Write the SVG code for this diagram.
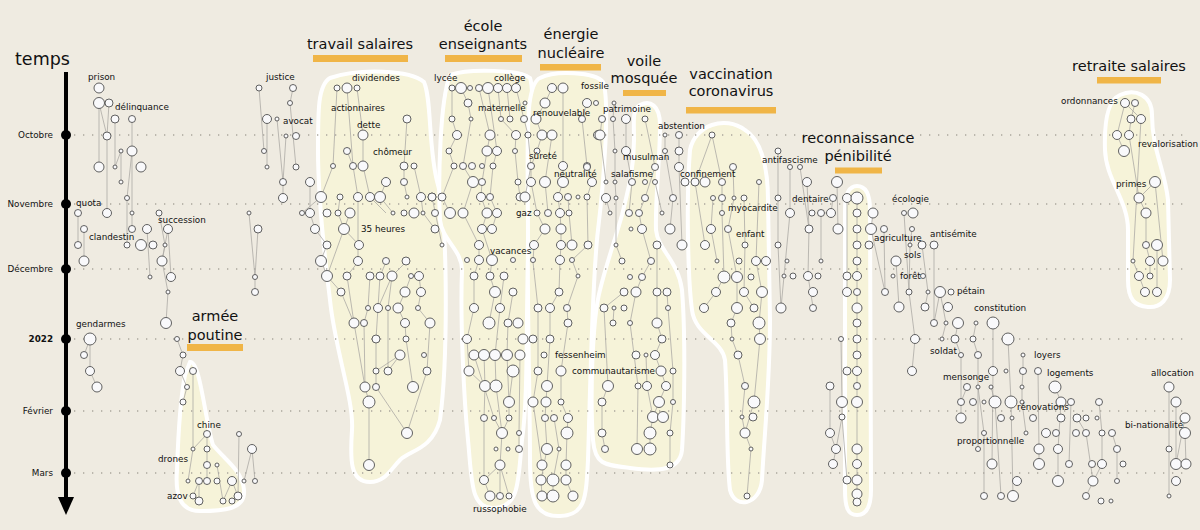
<svg xmlns="http://www.w3.org/2000/svg" width="1200" height="530" viewBox="0 0 1200 530">
<style>
.bg{fill:#efebe1}
.hl{fill:#f6f3d9;stroke:#fff;stroke-width:4}
.bar{fill:#f0b547}
.dl{stroke:#aaa69c;stroke-width:1.3;stroke-dasharray:1.3 7.7;fill:none}
.ln polyline{fill:none;stroke:#acaaa5;stroke-width:0.8}
circle{fill:#f9f9fb;stroke:#4f4f4f;stroke-width:0.9}
text{font-family:"DejaVu Sans","Liberation Sans",sans-serif;fill:#111}
.s{font-size:8.8px}
.t{font-size:14.5px;text-anchor:middle}
.m{font-size:8.8px;text-anchor:end}
</style>
<rect class="bg" x="0" y="0" width="1200" height="530"/>

<g id="highlights">
<path class="hl" d="M190,362 C200,360 205,420 213,445 C225,460 242,470 244,490 C246,510 222,511 200,511 C180,511 175,495 177,470 C178,440 180,400 185,375 Z"/>
<path class="hl" d="M330,78 C360,68 410,70 424,82 C432,100 428,150 438,185 C448,220 448,360 440,420 C432,450 410,450 400,460 C390,470 385,482 370,482 C350,482 350,460 352,430 C354,400 335,350 330,300 C325,260 318,200 318,150 C318,110 318,85 330,78 Z"/>
<path class="hl" d="M450,75 C470,68 520,70 530,78 C536,95 530,200 528,260 C526,330 528,400 522,440 C518,480 520,506 495,508 C470,510 472,480 468,440 C464,400 460,320 462,270 C462,250 442,240 440,220 C438,180 440,100 450,75 Z"/>
<path class="hl" d="M540,78 C555,70 595,72 603,82 C610,100 604,180 598,230 C592,280 590,400 588,460 C586,500 585,515 560,516 C535,517 530,500 530,460 C530,400 527,300 528,240 C528,180 526,120 530,100 C532,88 535,80 540,78 Z"/>
<path class="hl" d="M640,105 C650,100 660,105 660,125 C660,160 655,200 656,230 C658,250 678,260 682,290 C686,340 684,420 682,450 C680,470 660,472 630,468 C605,465 595,465 593,440 C590,400 592,320 600,290 C606,265 615,240 622,215 C628,190 634,170 634,140 C634,120 632,110 640,105 Z"/>
<path class="hl" d="M690,150 C695,125 725,115 745,130 C762,140 768,170 768,200 L770,320 C770,380 764,440 762,480 C760,505 735,510 730,490 C726,460 728,400 725,360 C722,340 695,335 692,310 C688,280 686,200 690,150 Z"/>
<path class="hl" d="M857,186 C866,186 870,195 870,210 L871,490 C871,508 866,515 857,515 C848,515 845,508 845,490 L845,210 C845,195 848,186 857,186 Z"/>
<path class="hl" d="M1120,95 C1135,88 1152,95 1152,115 C1152,150 1165,170 1168,200 L1170,280 C1170,300 1160,308 1148,307 C1135,306 1128,300 1128,280 L1128,230 C1128,200 1106,180 1105,150 C1104,120 1108,100 1120,95 Z"/>
</g>

<g id="months">
<line class="dl" x1="74" y1="135" x2="1185" y2="135"/>
<line class="dl" x1="74" y1="204" x2="1185" y2="204"/>
<line class="dl" x1="74" y1="269" x2="1185" y2="269"/>
<line class="dl" x1="74" y1="339" x2="1185" y2="339"/>
<line class="dl" x1="74" y1="411" x2="1185" y2="411"/>
<line class="dl" x1="74" y1="473" x2="1185" y2="473"/>
</g>

<g id="timeline">
<text x="15" y="65" style="font-size:17.5px">temps</text>
<line x1="66" y1="72" x2="66" y2="500" stroke="#000" stroke-width="4"/>
<polygon points="58,497 74,497 66,515" fill="#000"/>
<circle cx="66" cy="135" r="5" style="fill:#000;stroke:none"/>
<circle cx="66" cy="204" r="5" style="fill:#000;stroke:none"/>
<circle cx="66" cy="269" r="5" style="fill:#000;stroke:none"/>
<circle cx="66" cy="339" r="5" style="fill:#000;stroke:none"/>
<circle cx="66" cy="411" r="5" style="fill:#000;stroke:none"/>
<circle cx="66" cy="473" r="5" style="fill:#000;stroke:none"/>
<text class="m" x="53" y="138">Octobre</text>
<text class="m" x="53" y="207">Novembre</text>
<text class="m" x="53" y="272">Décembre</text>
<text class="m" x="53" y="342" font-weight="bold">2022</text>
<text class="m" x="53" y="414">Février</text>
<text class="m" x="53" y="476">Mars</text>
</g>

<g id="connectors" class="ln">
<polyline points="99,103 99,167"/>
<polyline points="99,103 107,136 107,213"/>
<polyline points="109,103 107,136"/>
<polyline points="115,119 115,167 121,151 121,182"/>
<polyline points="132,119 132,151 127,198 127,245"/>
<polyline points="132,151 132,213 132,229"/>
<polyline points="78,213 78,245"/>
<polyline points="84,229 84,261"/>
<polyline points="159,213 165,245 162,261 168,292 166,323"/>
<polyline points="168,229 162,261"/>
<polyline points="147,229 150,277"/>
<polyline points="168,229 171,277"/>
<polyline points="259,88 264,151"/>
<polyline points="267,119 267,167"/>
<polyline points="293,88 290,103 296,167"/>
<polyline points="277,119 283,182 283,198"/>
<polyline points="286,136 283,182"/>
<polyline points="249,213 255,277 255,292"/>
<polyline points="258,229 255,277"/>
<polyline points="90,339 90,371 97,387"/>
<polyline points="90,339 84,355"/>
<polyline points="177,339 183,355 180,371 187,387 183,402"/>
<polyline points="193,371 193,449 188,481"/>
<polyline points="207,434 193,449"/>
<polyline points="207,434 207,449 207,465 207,481"/>
<polyline points="217,465 223,501"/>
<polyline points="239,434 238,496"/>
<polyline points="252,449 244,481"/>
<polyline points="252,449 255,481"/>
<polyline points="199,481 193,496"/>
<polyline points="199,481 199,501"/>
<polyline points="232,481 223,501"/>
<polyline points="232,481 238,496"/>
<polyline points="337,88 333,166 321,197"/>
<polyline points="347,88 353,166 358,197 358,245 358,262"/>
<polyline points="357,88 363,135 363,166 370,197 386,213"/>
<polyline points="347,151 353,166"/>
<polyline points="407,119 404,166 404,182 407,197"/>
<polyline points="414,166 421,197 423,213 435,229"/>
<polyline points="310,182 310,213 315,229 327,245 321,260"/>
<polyline points="321,197 302,213"/>
<polyline points="340,197 338,213 344,229 359,245"/>
<polyline points="380,197 393,213"/>
<polyline points="386,182 380,197"/>
<polyline points="350,213 344,229 327,276"/>
<polyline points="432,197 442,245"/>
<polyline points="442,197 450,213"/>
<polyline points="321,260 327,276 341,292 354,323 365,387 369,402 369,465"/>
<polyline points="358,262 347,276 354,323"/>
<polyline points="370,276 368,308 364,323 365,387"/>
<polyline points="386,262 380,276 376,339 376,371 376,387 407,433"/>
<polyline points="406,262 392,276 388,308 388,371 400,355"/>
<polyline points="411,276 405,292 398,308 405,323 406,339 413,387"/>
<polyline points="419,276 421,292 418,308 430,323 427,371 407,433"/>
<polyline points="392,276 378,308"/>
<polyline points="400,355 376,371"/>
<polyline points="452,88 452,119 457,135 449,151 454,166 442,197"/>
<polyline points="461,88 468,103 471,119 463,166 473,182 463,213 479,245 479,260 474,276 474,308 467,339 469,371 485,386"/>
<polyline points="479,88 490,135 487,151 482,182 481,197 487,213 482,229 492,260 490,276 495,292 489,323"/>
<polyline points="488,88 497,151 493,166 490,197 497,213 492,229"/>
<polyline points="498,88 501,119 516,135 515,151 518,182 520,197"/>
<polyline points="507,88 510,119"/>
<polyline points="516,88 524,119 528,135 531,166 525,197"/>
<polyline points="484,355 485,386 484,418 484,480 490,496"/>
<polyline points="495,355 496,386 502,433 500,465 500,496"/>
<polyline points="474,355 494,418 502,433"/>
<polyline points="507,355 509,402 509,418 502,433"/>
<polyline points="513,371 509,402"/>
<polyline points="520,355 519,433 519,449"/>
<polyline points="513,292 508,323 507,355"/>
<polyline points="504,276 500,308 495,355"/>
<polyline points="500,465 484,480"/>
<polyline points="500,465 509,496"/>
<polyline points="552,88 545,103 536,119 542,135 537,151 531,166 531,182 537,213 545,229 534,245 533,262 538,308 538,371 533,402 542,465"/>
<polyline points="563,88 563,166 563,182 558,197 560,213 561,229 561,245 560,260 559,292 550,308 550,339 547,386 546,402 545,418 547,449 541,480 542,496"/>
<polyline points="587,103 582,119 587,166 592,182 587,197 588,245 572,260 578,276 567,308 568,323 561,371 561,402 568,418 567,433 566,465 566,480 573,496"/>
<polyline points="552,135 545,182 548,213"/>
<polyline points="568,197 569,213 572,245"/>
<polyline points="554,418 559,449 553,480 553,496"/>
<polyline points="614,103 613,119 615,151 615,182 616,198 616,245 622,261"/>
<polyline points="602,119 600,135 606,182"/>
<polyline points="626,119 626,151 632,182 629,213"/>
<polyline points="645,119 655,167 645,198 639,213 642,229 651,261 642,277 636,292"/>
<polyline points="655,182 662,213"/>
<polyline points="606,198 610,213"/>
<polyline points="657,245 657,292 657,323 662,339 655,355 661,371 666,386 659,402 653,417 650,433 650,449"/>
<polyline points="624,292 604,308 608,386 602,402 602,433 605,449"/>
<polyline points="636,292 630,323 638,386 637,449"/>
<polyline points="667,292 668,308 673,371 673,402 670,433 670,465"/>
<polyline points="613,323 614,308"/>
<polyline points="646,355 647,386 653,417"/>
<polyline points="665,135 665,151 673,198 670,229"/>
<polyline points="679,135 679,151 679,167 682,245"/>
<polyline points="712,135 695,182 705,245"/>
<polyline points="712,135 722,182 722,198 722,213 724,277 716,292 704,308"/>
<polyline points="733,167 734,198 728,229 737,277 737,308 731,323 732,339 738,355 745,386 742,417 745,433 751,449 747,496"/>
<polyline points="759,182 756,261 762,292 759,323 760,339 754,402 745,433"/>
<polyline points="744,198 745,245 744,292 754,308"/>
<polyline points="713,198 711,229 717,261"/>
<polyline points="778,151 778,198 778,245 781,308"/>
<polyline points="790,167 790,213 784,276 781,308"/>
<polyline points="800,167 809,229 808,276 813,307"/>
<polyline points="807,182 809,229"/>
<polyline points="837,182 838,229"/>
<polyline points="833,198 831,213 821,213"/>
<polyline points="821,213 821,261"/>
<polyline points="847,198 847,276 847,292"/>
<polyline points="857,198 857,502"/>
<polyline points="841,339 842,402 842,417 836,449 833,464"/>
<polyline points="830,386 830,433 836,449"/>
<polyline points="842,417 847,480"/>
<polyline points="873,213 871,229 885,292"/>
<polyline points="884,229 885,292"/>
<polyline points="904,213 909,292 915,339"/>
<polyline points="912,229 910,245 909,292"/>
<polyline points="922,245 928,292 925,307"/>
<polyline points="934,245 934,323"/>
<polyline points="896,261 899,307"/>
<polyline points="940,292 934,323"/>
<polyline points="940,292 946,323 942,339"/>
<polyline points="958,323 955,339 961,355 961,402 961,418"/>
<polyline points="976,323 973,339 978,355 978,449"/>
<polyline points="993,323 993,371 992,464"/>
<polyline points="1008,339 1011,402 1013,496"/>
<polyline points="915,339 912,371"/>
<polyline points="1023,355 1023,371 1022,387 1022,402 1026,433"/>
<polyline points="1038,371 1039,449 1039,464"/>
<polyline points="1055,387 1061,402 1058,449 1058,481"/>
<polyline points="1071,402 1069,464"/>
<polyline points="1099,402 1102,433 1102,464 1086,496"/>
<polyline points="1077,418 1086,433 1093,481"/>
<polyline points="1112,433 1117,449 1117,481"/>
<polyline points="1169,387 1169,449 1169,496"/>
<polyline points="1176,402 1176,464"/>
<polyline points="1185,418 1176,464"/>
<polyline points="1185,433 1186,464"/>
<polyline points="967,387 961,402"/>
<polyline points="978,387 984,433 984,496"/>
<polyline points="991,387 995,402 1001,496"/>
<polyline points="1125,103 1117,135 1124,151"/>
<polyline points="1125,103 1141,119"/>
<polyline points="1135,103 1131,119 1129,135"/>
<polyline points="1129,135 1139,198 1146,213 1146,245 1150,261 1150,276"/>
<polyline points="1155,182 1139,198"/>
<polyline points="1155,182 1163,261"/>
<polyline points="1141,119 1133,261 1139,276 1145,292"/>
<polyline points="1157,245 1157,292"/>
</g>

<g id="node-gauche">
<circle cx="99" cy="88" r="5"/><circle cx="99" cy="103" r="5.5"/><circle cx="109" cy="103" r="4"/><circle cx="115" cy="119" r="4"/><circle cx="132" cy="119" r="3.5"/><circle cx="107" cy="136" r="4"/><circle cx="121" cy="151" r="2"/><circle cx="132" cy="151" r="5"/><circle cx="99" cy="167" r="5"/><circle cx="115" cy="167" r="2"/><circle cx="141" cy="167" r="5"/><circle cx="121" cy="182" r="2"/><circle cx="127" cy="198" r="2.5"/><circle cx="78" cy="213" r="3.5"/><circle cx="107" cy="213" r="4.5"/><circle cx="132" cy="213" r="2"/><circle cx="159" cy="213" r="3"/><circle cx="84" cy="229" r="3.5"/><circle cx="132" cy="229" r="3.5"/><circle cx="147" cy="229" r="4.5"/><circle cx="168" cy="229" r="4.5"/><circle cx="78" cy="245" r="3.5"/><circle cx="127" cy="245" r="3"/><circle cx="141" cy="245" r="5.5"/><circle cx="153" cy="245" r="4"/><circle cx="165" cy="245" r="2"/><circle cx="84" cy="261" r="5"/><circle cx="162" cy="261" r="5"/><circle cx="150" cy="277" r="2"/><circle cx="171" cy="277" r="4.5"/><circle cx="168" cy="292" r="2"/><circle cx="166" cy="323" r="5.5"/><circle cx="90" cy="339" r="6"/><circle cx="84" cy="355" r="3.5"/><circle cx="90" cy="371" r="4.5"/><circle cx="97" cy="387" r="5"/>
<text class="s" x="88" y="80">prison</text>
<text class="s" x="115" y="110">délinquance</text>
<text class="s" x="76" y="206">quota</text>
<text class="s" x="158" y="223">succession</text>
<text class="s" x="89" y="240">clandestin</text>
<text class="s" x="76" y="327">gendarmes</text>
</g>

<g id="node-justice">
<circle cx="259" cy="88" r="3"/><circle cx="293" cy="88" r="3.5"/><circle cx="290" cy="103" r="2.5"/><circle cx="267" cy="119" r="4.5"/><circle cx="277" cy="119" r="2"/><circle cx="286" cy="136" r="2"/><circle cx="296" cy="136" r="3.5"/><circle cx="264" cy="151" r="2.5"/><circle cx="267" cy="167" r="2"/><circle cx="296" cy="167" r="3"/><circle cx="283" cy="182" r="3.5"/><circle cx="283" cy="198" r="4.5"/><circle cx="249" cy="213" r="2"/><circle cx="258" cy="229" r="4"/><circle cx="255" cy="277" r="2.5"/><circle cx="255" cy="292" r="3.5"/>
<text class="s" x="266" y="80">justice</text>
<text class="s" x="283" y="124">avocat</text>
</g>

<g id="node-armee">
<circle cx="177" cy="339" r="2.5"/><circle cx="183" cy="355" r="3"/><circle cx="180" cy="371" r="4.5"/><circle cx="193" cy="371" r="3.5"/><circle cx="187" cy="387" r="2.5"/><circle cx="183" cy="402" r="3"/><circle cx="207" cy="434" r="3.5"/><circle cx="239" cy="434" r="2.5"/><circle cx="193" cy="449" r="2"/><circle cx="207" cy="449" r="3"/><circle cx="252" cy="449" r="4.5"/><circle cx="207" cy="465" r="3.5"/><circle cx="217" cy="465" r="2"/><circle cx="188" cy="481" r="2"/><circle cx="199" cy="481" r="3.5"/><circle cx="207" cy="481" r="3.5"/><circle cx="217" cy="481" r="3"/><circle cx="232" cy="481" r="4.5"/><circle cx="244" cy="481" r="2"/><circle cx="255" cy="481" r="2.5"/><circle cx="193" cy="496" r="3"/><circle cx="199" cy="501" r="4"/><circle cx="223" cy="501" r="3"/><circle cx="232" cy="501" r="3"/><circle cx="238" cy="496" r="4"/>
<text class="s" x="197" y="428">chine</text>
<text class="s" x="158" y="462">drones</text>
<text class="s" x="167" y="499">azov</text>
</g>

<g id="node-travail">
<circle cx="337" cy="88" r="3"/><circle cx="347" cy="88" r="5"/><circle cx="357" cy="88" r="3"/><circle cx="407" cy="119" r="4"/><circle cx="363" cy="135" r="5"/><circle cx="347" cy="151" r="3.5"/><circle cx="333" cy="166" r="2.5"/><circle cx="353" cy="166" r="3.5"/><circle cx="363" cy="166" r="5"/><circle cx="404" cy="166" r="4"/><circle cx="414" cy="166" r="3"/><circle cx="310" cy="182" r="4.5"/><circle cx="386" cy="182" r="4.5"/><circle cx="404" cy="182" r="3.5"/><circle cx="321" cy="197" r="5.5"/><circle cx="340" cy="197" r="3"/><circle cx="358" cy="197" r="4.5"/><circle cx="370" cy="197" r="4.5"/><circle cx="380" cy="197" r="5.5"/><circle cx="407" cy="197" r="2"/><circle cx="421" cy="197" r="4.5"/><circle cx="432" cy="197" r="4"/><circle cx="442" cy="197" r="4"/><circle cx="302" cy="213" r="2.5"/><circle cx="310" cy="213" r="4.5"/><circle cx="327" cy="213" r="4"/><circle cx="338" cy="213" r="3"/><circle cx="350" cy="213" r="5"/><circle cx="393" cy="213" r="2"/><circle cx="404" cy="213" r="3"/><circle cx="414" cy="213" r="5"/><circle cx="423" cy="213" r="2"/><circle cx="434" cy="213" r="2"/><circle cx="450" cy="213" r="5.5"/><circle cx="315" cy="229" r="4.5"/><circle cx="344" cy="229" r="5.5"/><circle cx="435" cy="229" r="4"/><circle cx="327" cy="245" r="4"/><circle cx="359" cy="245" r="4.5"/><circle cx="442" cy="245" r="2"/><circle cx="321" cy="261" r="5.5"/><circle cx="358" cy="261" r="4.5"/><circle cx="386" cy="261" r="3.5"/><circle cx="406" cy="261" r="4"/>
<circle cx="327" cy="276" r="5.5"/><circle cx="347" cy="276" r="4"/><circle cx="370" cy="276" r="4"/><circle cx="380" cy="276" r="4"/><circle cx="392" cy="276" r="5"/><circle cx="411" cy="276" r="2.5"/><circle cx="419" cy="276" r="4.5"/><circle cx="341" cy="292" r="4"/><circle cx="405" cy="292" r="5"/><circle cx="421" cy="292" r="4.5"/><circle cx="368" cy="308" r="2.5"/><circle cx="378" cy="308" r="4.5"/><circle cx="388" cy="308" r="2.5"/><circle cx="398" cy="308" r="5"/><circle cx="418" cy="308" r="2.5"/><circle cx="354" cy="323" r="5"/><circle cx="364" cy="323" r="3.5"/><circle cx="405" cy="323" r="4.5"/><circle cx="430" cy="323" r="5"/><circle cx="376" cy="339" r="4"/><circle cx="406" cy="339" r="3"/><circle cx="400" cy="355" r="5"/><circle cx="424" cy="355" r="2.5"/><circle cx="376" cy="371" r="3"/><circle cx="388" cy="371" r="4"/><circle cx="427" cy="371" r="4"/><circle cx="365" cy="387" r="5"/><circle cx="376" cy="387" r="3.5"/><circle cx="413" cy="387" r="5.5"/><circle cx="369" cy="402" r="6"/><circle cx="407" cy="433" r="5.5"/><circle cx="369" cy="465" r="5.5"/>
<text class="s" x="352" y="81">dividendes</text>
<text class="s" x="331" y="111">actionnaires</text>
<text class="s" x="357" y="128">dette</text>
<text class="s" x="373" y="155">chômeur</text>
<text class="s" x="361" y="232">35 heures</text>
</g>

<g id="node-ecole">
<circle cx="452" cy="88" r="3"/><circle cx="461" cy="88" r="5.5"/><circle cx="470" cy="88" r="2.5"/><circle cx="479" cy="88" r="3.5"/><circle cx="488" cy="88" r="5.5"/><circle cx="498" cy="88" r="4.5"/><circle cx="507" cy="88" r="4.5"/><circle cx="516" cy="88" r="4.5"/><circle cx="468" cy="103" r="4"/><circle cx="525" cy="103" r="2"/><circle cx="452" cy="119" r="3"/><circle cx="471" cy="119" r="2"/><circle cx="501" cy="119" r="2.5"/><circle cx="510" cy="119" r="3"/><circle cx="524" cy="119" r="3.5"/><circle cx="457" cy="135" r="4.5"/><circle cx="490" cy="135" r="5"/><circle cx="516" cy="135" r="4.5"/><circle cx="528" cy="135" r="3"/><circle cx="449" cy="151" r="3"/><circle cx="487" cy="151" r="5"/><circle cx="497" cy="151" r="4.5"/><circle cx="515" cy="151" r="2.5"/><circle cx="454" cy="166" r="3"/><circle cx="463" cy="166" r="3.5"/><circle cx="472" cy="166" r="3.5"/><circle cx="482" cy="166" r="2.5"/><circle cx="493" cy="166" r="3"/><circle cx="473" cy="182" r="5.5"/><circle cx="482" cy="182" r="3.5"/><circle cx="518" cy="182" r="3"/><circle cx="432" cy="197" r="4"/><circle cx="481" cy="197" r="4.5"/><circle cx="490" cy="197" r="3.5"/><circle cx="520" cy="197" r="4"/><circle cx="435" cy="213" r="3.5"/><circle cx="463" cy="213" r="5"/><circle cx="487" cy="213" r="5"/><circle cx="497" cy="213" r="4.5"/><circle cx="482" cy="229" r="4.5"/><circle cx="492" cy="229" r="4.5"/><circle cx="479" cy="245" r="4.5"/><circle cx="467" cy="260" r="2.5"/><circle cx="479" cy="260" r="4.5"/><circle cx="492" cy="260" r="5.5"/><circle cx="513" cy="260" r="2.5"/>
<circle cx="474" cy="276" r="4"/><circle cx="490" cy="276" r="4"/><circle cx="504" cy="276" r="4"/><circle cx="495" cy="292" r="5.5"/><circle cx="513" cy="292" r="4"/><circle cx="474" cy="308" r="4.5"/><circle cx="500" cy="308" r="4.5"/><circle cx="489" cy="323" r="6"/><circle cx="508" cy="323" r="4"/><circle cx="518" cy="323" r="5"/><circle cx="467" cy="339" r="4.5"/><circle cx="523" cy="339" r="5"/><circle cx="474" cy="355" r="5"/><circle cx="484" cy="355" r="5.5"/><circle cx="495" cy="355" r="5.5"/><circle cx="507" cy="355" r="5.5"/><circle cx="520" cy="355" r="5"/><circle cx="469" cy="371" r="5"/><circle cx="513" cy="371" r="6"/><circle cx="485" cy="386" r="5.5"/><circle cx="496" cy="386" r="6"/><circle cx="509" cy="402" r="5.5"/><circle cx="484" cy="418" r="3.5"/><circle cx="494" cy="418" r="2.5"/><circle cx="509" cy="418" r="3"/><circle cx="502" cy="433" r="5.5"/><circle cx="519" cy="433" r="2.5"/><circle cx="496" cy="449" r="2"/><circle cx="508" cy="449" r="2"/><circle cx="519" cy="449" r="3.5"/><circle cx="500" cy="465" r="5"/><circle cx="484" cy="480" r="4.5"/><circle cx="490" cy="496" r="5"/><circle cx="500" cy="496" r="3.5"/><circle cx="509" cy="496" r="3"/>
<text class="s" x="434" y="81">lycée</text>
<text class="s" x="494" y="81">collège</text>
<text class="s" x="478" y="111">maternelle</text>
<text class="s" x="490" y="254">vacances</text>
<text class="s" x="473" y="512">russophobie</text>
</g>

<g id="node-energie">
<circle cx="552" cy="88" r="4.5"/><circle cx="563" cy="88" r="5"/><circle cx="545" cy="103" r="5"/><circle cx="587" cy="103" r="4.5"/><circle cx="596" cy="103" r="2.5"/><circle cx="536" cy="119" r="5"/><circle cx="582" cy="119" r="3.5"/><circle cx="542" cy="135" r="5"/><circle cx="552" cy="135" r="5"/><circle cx="598" cy="135" r="4.5"/><circle cx="537" cy="151" r="3"/><circle cx="531" cy="166" r="3.5"/><circle cx="563" cy="166" r="4.5"/><circle cx="587" cy="166" r="3.5"/><circle cx="531" cy="182" r="4.5"/><circle cx="545" cy="182" r="5.5"/><circle cx="563" cy="182" r="5.5"/><circle cx="592" cy="182" r="4.5"/><circle cx="525" cy="197" r="5"/><circle cx="558" cy="197" r="4.5"/><circle cx="568" cy="197" r="3.5"/><circle cx="578" cy="197" r="2"/><circle cx="587" cy="197" r="3"/><circle cx="537" cy="213" r="3"/><circle cx="548" cy="213" r="3.5"/><circle cx="560" cy="213" r="4.5"/><circle cx="569" cy="213" r="3"/><circle cx="545" cy="229" r="5"/><circle cx="561" cy="229" r="5"/><circle cx="534" cy="245" r="4.5"/><circle cx="561" cy="245" r="4.5"/><circle cx="572" cy="245" r="5"/><circle cx="588" cy="245" r="4"/><circle cx="533" cy="260" r="2.5"/><circle cx="560" cy="260" r="4.5"/><circle cx="572" cy="260" r="2.5"/>
<circle cx="578" cy="276" r="2"/><circle cx="559" cy="292" r="4"/><circle cx="538" cy="308" r="4"/><circle cx="550" cy="308" r="4.5"/><circle cx="567" cy="308" r="3.5"/><circle cx="568" cy="323" r="4"/><circle cx="533" cy="339" r="4"/><circle cx="550" cy="339" r="4"/><circle cx="544" cy="355" r="3"/><circle cx="538" cy="371" r="4"/><circle cx="561" cy="371" r="5"/><circle cx="547" cy="386" r="5.5"/><circle cx="533" cy="402" r="5"/><circle cx="546" cy="402" r="5"/><circle cx="561" cy="402" r="3"/><circle cx="545" cy="418" r="3.5"/><circle cx="554" cy="418" r="3.5"/><circle cx="568" cy="418" r="4.5"/><circle cx="567" cy="433" r="6"/><circle cx="547" cy="449" r="5.5"/><circle cx="559" cy="449" r="2"/><circle cx="542" cy="465" r="5"/><circle cx="566" cy="465" r="5"/><circle cx="541" cy="480" r="5"/><circle cx="553" cy="480" r="6"/><circle cx="566" cy="480" r="5"/><circle cx="542" cy="496" r="5"/><circle cx="553" cy="496" r="6"/><circle cx="573" cy="496" r="5"/>
<text class="s" x="581" y="89">fossile</text>
<text class="s" x="533" y="116">renouvelable</text>
<text class="s" x="529" y="159">sûreté</text>
<text class="s" x="554" y="177">neutralité</text>
<text class="s" x="516" y="216">gaz</text>
<text class="s" x="555" y="358">fessenheim</text>
<text class="s" x="572" y="374">communautarisme</text>
</g>

<g id="node-voile">
<circle cx="614" cy="103" r="2"/><circle cx="602" cy="119" r="3.5"/><circle cx="613" cy="119" r="2.5"/><circle cx="626" cy="119" r="4.5"/><circle cx="645" cy="119" r="3"/><circle cx="600" cy="135" r="5"/><circle cx="615" cy="151" r="2"/><circle cx="626" cy="151" r="4.5"/><circle cx="587" cy="167" r="3.5"/><circle cx="655" cy="167" r="3.5"/><circle cx="606" cy="182" r="2"/><circle cx="615" cy="182" r="2"/><circle cx="632" cy="182" r="3.5"/><circle cx="645" cy="182" r="2.5"/><circle cx="655" cy="182" r="2.5"/><circle cx="606" cy="198" r="4.5"/><circle cx="616" cy="198" r="2"/><circle cx="645" cy="198" r="3.5"/><circle cx="610" cy="213" r="2"/><circle cx="629" cy="213" r="3.5"/><circle cx="639" cy="213" r="3.5"/><circle cx="662" cy="213" r="2"/><circle cx="631" cy="229" r="2"/><circle cx="642" cy="229" r="4.5"/><circle cx="616" cy="245" r="2"/><circle cx="657" cy="245" r="4"/><circle cx="622" cy="261" r="3"/><circle cx="651" cy="261" r="3.5"/><circle cx="630" cy="277" r="2.5"/><circle cx="642" cy="277" r="3.5"/>
<circle cx="624" cy="292" r="4"/><circle cx="636" cy="292" r="5"/><circle cx="657" cy="292" r="4"/><circle cx="667" cy="292" r="4"/><circle cx="604" cy="308" r="4"/><circle cx="614" cy="308" r="2"/><circle cx="624" cy="308" r="3"/><circle cx="668" cy="308" r="2.5"/><circle cx="613" cy="323" r="3"/><circle cx="630" cy="323" r="2.5"/><circle cx="657" cy="323" r="5"/><circle cx="662" cy="339" r="4"/><circle cx="636" cy="355" r="4"/><circle cx="646" cy="355" r="2"/><circle cx="655" cy="355" r="4.5"/><circle cx="661" cy="371" r="5"/><circle cx="673" cy="371" r="3"/><circle cx="608" cy="386" r="5.5"/><circle cx="638" cy="386" r="3"/><circle cx="647" cy="386" r="4.5"/><circle cx="666" cy="386" r="4.5"/><circle cx="602" cy="402" r="4"/><circle cx="659" cy="402" r="5.5"/><circle cx="673" cy="402" r="2.5"/><circle cx="653" cy="417" r="5.5"/><circle cx="663" cy="417" r="5.5"/><circle cx="602" cy="433" r="4"/><circle cx="650" cy="433" r="6"/><circle cx="670" cy="433" r="3"/><circle cx="605" cy="449" r="3.5"/><circle cx="637" cy="449" r="5.5"/><circle cx="650" cy="449" r="6"/><circle cx="670" cy="465" r="3"/>
<text class="s" x="603" y="112">patrimoine</text>
<text class="s" x="623" y="160">musulman</text>
<text class="s" x="611" y="177">salafisme</text>
</g>

<g id="node-vaccination">
<circle cx="665" cy="135" r="2"/><circle cx="679" cy="135" r="3.5"/><circle cx="712" cy="135" r="3"/><circle cx="665" cy="151" r="2.5"/><circle cx="679" cy="151" r="4"/><circle cx="679" cy="167" r="4.5"/><circle cx="733" cy="167" r="3.5"/><circle cx="685" cy="182" r="4"/><circle cx="695" cy="182" r="4"/><circle cx="705" cy="182" r="5"/><circle cx="722" cy="182" r="3.5"/><circle cx="759" cy="182" r="2.5"/><circle cx="673" cy="198" r="3.5"/><circle cx="713" cy="198" r="2.5"/><circle cx="722" cy="198" r="3.5"/><circle cx="734" cy="198" r="2"/><circle cx="744" cy="198" r="3"/><circle cx="722" cy="213" r="2.5"/><circle cx="670" cy="229" r="5"/><circle cx="711" cy="229" r="4.5"/><circle cx="728" cy="229" r="3.5"/><circle cx="682" cy="245" r="5"/><circle cx="705" cy="245" r="4.5"/><circle cx="745" cy="245" r="3"/><circle cx="717" cy="261" r="2"/><circle cx="739" cy="261" r="3"/><circle cx="756" cy="261" r="4.5"/><circle cx="766" cy="261" r="4.5"/><circle cx="724" cy="277" r="6"/><circle cx="737" cy="277" r="5.5"/><circle cx="751" cy="277" r="3"/>
<circle cx="716" cy="292" r="4.5"/><circle cx="744" cy="292" r="4.5"/><circle cx="762" cy="292" r="5.5"/><circle cx="704" cy="308" r="4.5"/><circle cx="737" cy="308" r="5.5"/><circle cx="754" cy="308" r="4"/><circle cx="731" cy="323" r="4"/><circle cx="759" cy="323" r="6"/><circle cx="732" cy="339" r="2"/><circle cx="760" cy="339" r="5.5"/><circle cx="738" cy="355" r="4"/><circle cx="745" cy="386" r="3.5"/><circle cx="754" cy="402" r="6"/><circle cx="742" cy="417" r="2"/><circle cx="753" cy="417" r="4"/><circle cx="745" cy="433" r="5"/><circle cx="751" cy="449" r="2"/><circle cx="747" cy="496" r="3"/>
<text class="s" x="658" y="129">abstention</text>
<text class="s" x="680" y="177">confinement</text>
<text class="s" x="728" y="211">myocardite</text>
<text class="s" x="736" y="237">enfant</text>
</g>

<g id="node-dentaire">
<circle cx="778" cy="151" r="3"/><circle cx="790" cy="167" r="2.5"/><circle cx="800" cy="167" r="2.5"/><circle cx="807" cy="182" r="4.5"/><circle cx="837" cy="182" r="5.5"/><circle cx="778" cy="198" r="3"/><circle cx="833" cy="198" r="3.5"/><circle cx="847" cy="198" r="4.5"/><circle cx="790" cy="213" r="4.5"/><circle cx="812" cy="213" r="3"/><circle cx="821" cy="213" r="3.5"/><circle cx="831" cy="213" r="4.5"/><circle cx="809" cy="229" r="4"/><circle cx="838" cy="229" r="5"/><circle cx="778" cy="245" r="3"/><circle cx="787" cy="261" r="2"/><circle cx="821" cy="261" r="2"/><circle cx="784" cy="276" r="2"/><circle cx="793" cy="276" r="3"/><circle cx="808" cy="276" r="4.5"/><circle cx="818" cy="276" r="3"/><circle cx="847" cy="276" r="4"/><circle cx="813" cy="292" r="4.5"/><circle cx="847" cy="292" r="4.5"/><circle cx="781" cy="308" r="5"/><circle cx="813" cy="308" r="3.5"/><circle cx="841" cy="339" r="2.5"/><circle cx="847" cy="371" r="4"/><circle cx="830" cy="386" r="4"/><circle cx="842" cy="402" r="5.5"/><circle cx="842" cy="417" r="3"/><circle cx="830" cy="433" r="4.5"/><circle cx="836" cy="449" r="4.5"/><circle cx="833" cy="464" r="4.5"/><circle cx="847" cy="480" r="4"/>
<text class="s" x="762" y="163">antifascisme</text>
<text class="s" x="792" y="202">dentaire</text>
</g>

<g id="node-reconnaissance">
<circle cx="857" cy="198" r="6"/><circle cx="857" cy="213" r="4"/><circle cx="857" cy="229" r="4"/><circle cx="857" cy="245" r="4"/><circle cx="857" cy="261" r="4"/><circle cx="857" cy="276" r="4.5"/><circle cx="857" cy="292" r="3.5"/><circle cx="857" cy="308" r="5"/><circle cx="857" cy="323" r="4"/><circle cx="857" cy="339" r="4"/><circle cx="857" cy="355" r="4"/><circle cx="857" cy="371" r="4.5"/><circle cx="857" cy="386" r="3.5"/><circle cx="857" cy="402" r="5.5"/><circle cx="857" cy="449" r="5"/><circle cx="857" cy="464" r="4.5"/><circle cx="857" cy="480" r="5"/><circle cx="857" cy="494" r="5"/><circle cx="857" cy="502" r="4"/>
</g>

<g id="node-ecologie">
<circle cx="873" cy="213" r="5"/><circle cx="904" cy="213" r="2.5"/><circle cx="913" cy="213" r="5"/><circle cx="871" cy="229" r="5.5"/><circle cx="884" cy="229" r="3.5"/><circle cx="912" cy="229" r="2.5"/><circle cx="869" cy="245" r="4"/><circle cx="910" cy="245" r="2"/><circle cx="922" cy="245" r="4"/><circle cx="934" cy="245" r="4"/><circle cx="896" cy="261" r="5"/><circle cx="893" cy="276" r="2"/><circle cx="923" cy="276" r="2.5"/><circle cx="885" cy="292" r="3.5"/><circle cx="909" cy="292" r="3"/><circle cx="928" cy="292" r="2"/><circle cx="940" cy="292" r="5.5"/><circle cx="951" cy="292" r="3"/><circle cx="899" cy="307" r="5"/><circle cx="925" cy="307" r="4"/><circle cx="948" cy="307" r="4.5"/><circle cx="934" cy="323" r="3.5"/><circle cx="946" cy="323" r="2"/><circle cx="958" cy="323" r="5.5"/><circle cx="976" cy="323" r="2"/><circle cx="993" cy="323" r="6"/><circle cx="915" cy="339" r="4.5"/><circle cx="942" cy="339" r="2"/><circle cx="955" cy="339" r="4"/><circle cx="973" cy="339" r="3"/><circle cx="1008" cy="339" r="6"/><circle cx="961" cy="355" r="2.5"/><circle cx="978" cy="355" r="3.5"/><circle cx="1023" cy="355" r="2"/><circle cx="912" cy="371" r="4.5"/><circle cx="993" cy="371" r="4.5"/><circle cx="1006" cy="371" r="2"/><circle cx="1023" cy="371" r="3.5"/><circle cx="1038" cy="371" r="3.5"/>
<circle cx="967" cy="387" r="3.5"/><circle cx="978" cy="387" r="2"/><circle cx="991" cy="387" r="2"/><circle cx="1022" cy="387" r="2"/><circle cx="1055" cy="387" r="6"/><circle cx="1169" cy="387" r="5"/><circle cx="961" cy="402" r="3.5"/><circle cx="973" cy="402" r="3.5"/><circle cx="984" cy="402" r="2"/><circle cx="995" cy="402" r="6"/><circle cx="1011" cy="402" r="6"/><circle cx="1022" cy="402" r="2"/><circle cx="1061" cy="402" r="5"/><circle cx="1071" cy="402" r="3.5"/><circle cx="1099" cy="402" r="3.5"/><circle cx="1176" cy="402" r="5"/><circle cx="961" cy="418" r="5"/><circle cx="1001" cy="418" r="3.5"/><circle cx="1012" cy="418" r="2"/><circle cx="1033" cy="418" r="3.5"/><circle cx="1061" cy="418" r="4"/><circle cx="1077" cy="418" r="4"/><circle cx="1086" cy="418" r="3"/><circle cx="1097" cy="418" r="2"/><circle cx="1185" cy="418" r="5"/><circle cx="984" cy="433" r="2.5"/><circle cx="1026" cy="433" r="2"/><circle cx="1046" cy="433" r="4.5"/><circle cx="1056" cy="433" r="3.5"/><circle cx="1076" cy="433" r="3.5"/><circle cx="1086" cy="433" r="3.5"/><circle cx="1102" cy="433" r="3"/><circle cx="1112" cy="433" r="3.5"/><circle cx="1185" cy="433" r="5.5"/><circle cx="978" cy="449" r="2.5"/><circle cx="1039" cy="449" r="5"/><circle cx="1058" cy="449" r="4.5"/><circle cx="1117" cy="449" r="3.5"/><circle cx="1169" cy="449" r="3"/><circle cx="992" cy="464" r="5"/><circle cx="1039" cy="464" r="5.5"/><circle cx="1069" cy="464" r="3.5"/><circle cx="1092" cy="464" r="3.5"/><circle cx="1102" cy="464" r="4.5"/><circle cx="1123" cy="464" r="3"/><circle cx="1176" cy="464" r="5.5"/><circle cx="1186" cy="464" r="5"/><circle cx="1017" cy="481" r="4.5"/><circle cx="1058" cy="481" r="5.5"/><circle cx="1093" cy="481" r="5"/><circle cx="1117" cy="481" r="2.5"/><circle cx="1176" cy="481" r="4.5"/><circle cx="984" cy="496" r="3.5"/><circle cx="1001" cy="496" r="3.5"/><circle cx="1013" cy="496" r="5.5"/><circle cx="1086" cy="496" r="3.5"/><circle cx="1101" cy="501" r="3"/><circle cx="1111" cy="501" r="2"/><circle cx="1169" cy="496" r="2"/>
<text class="s" x="892" y="202">écologie</text>
<text class="s" x="874" y="241">agriculture</text>
<text class="s" x="930" y="237">antisémite</text>
<text class="s" x="904" y="258">sols</text>
<text class="s" x="900" y="279">forêt</text>
<text class="s" x="957" y="294">pétain</text>
<text class="s" x="974" y="311">constitution</text>
<text class="s" x="930" y="354">soldat</text>
<text class="s" x="1034" y="358">loyers</text>
<text class="s" x="1047" y="376">logements</text>
<text class="s" x="943" y="380">mensonge</text>
<text class="s" x="1151" y="376">allocation</text>
<text class="s" x="1017" y="410">rénovations</text>
<text class="s" x="1125" y="428">bi-nationalité</text>
<text class="s" x="957" y="444">proportionnelle</text>
</g>

<g id="node-retraite">
<circle cx="1125" cy="103" r="4.5"/><circle cx="1135" cy="103" r="3.5"/><circle cx="1131" cy="119" r="4"/><circle cx="1141" cy="119" r="4.5"/><circle cx="1117" cy="135" r="4.5"/><circle cx="1129" cy="135" r="4.5"/><circle cx="1124" cy="151" r="5.5"/><circle cx="1155" cy="182" r="5.5"/><circle cx="1139" cy="198" r="5"/><circle cx="1146" cy="213" r="5"/><circle cx="1146" cy="245" r="3.5"/><circle cx="1157" cy="245" r="5.5"/><circle cx="1133" cy="261" r="2"/><circle cx="1150" cy="261" r="4.5"/><circle cx="1163" cy="261" r="5"/><circle cx="1139" cy="276" r="4.5"/><circle cx="1150" cy="276" r="3"/><circle cx="1145" cy="292" r="4.5"/><circle cx="1157" cy="292" r="4.5"/>
<text class="s" x="1061" y="104">ordonnances</text>
<text class="s" x="1138" y="147">revalorisation</text>
<text class="s" x="1116" y="187">primes</text>
</g>

<g id="topics">
<text class="t" x="360" y="49">travail salaires</text>
<rect class="bar" x="313" y="55" width="95" height="7"/>
<text class="t" x="483" y="31">école</text>
<text class="t" x="483" y="48.5">enseignants</text>
<rect class="bar" x="445" y="55" width="77" height="7"/>
<text class="t" x="571" y="39">énergie</text>
<text class="t" x="571" y="58">nucléaire</text>
<rect class="bar" x="540" y="64" width="61" height="6.5"/>
<text class="t" x="644" y="65.5">voile</text>
<text class="t" x="644" y="82.5">mosquée</text>
<rect class="bar" x="623" y="90" width="43" height="6"/>
<text class="t" x="731" y="78.5">vaccination</text>
<text class="t" x="731" y="96">coronavirus</text>
<rect class="bar" x="686" y="107" width="90" height="6.5"/>
<text class="t" x="858" y="143">reconnaissance</text>
<text class="t" x="858" y="161">pénibilité</text>
<rect class="bar" x="835" y="167.5" width="47" height="6"/>
<text class="t" x="1129" y="71">retraite salaires</text>
<rect class="bar" x="1097" y="77" width="64" height="6.5"/>
<text class="t" x="215" y="321">armée</text>
<text class="t" x="215" y="340">poutine</text>
<rect class="bar" x="187" y="344" width="56" height="7"/>
</g>
</svg>
